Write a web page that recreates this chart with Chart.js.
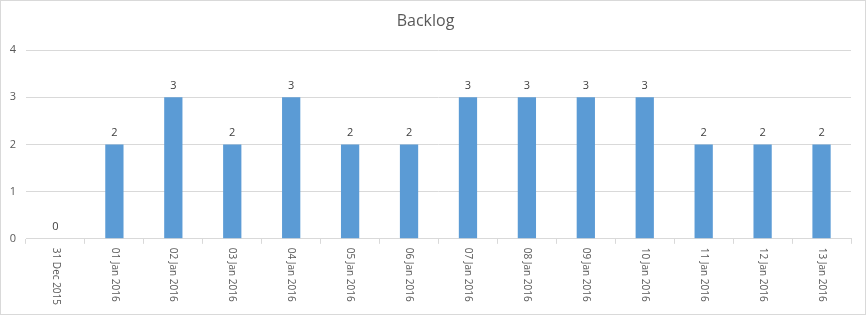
<!DOCTYPE html>
<html>
<head>
<meta charset="utf-8">
<script src="https://cdn.jsdelivr.net/npm/chart.js@4"></script>
<style>
html,body{margin:0;padding:0;background:#fff;}
#wrap{width:866px;height:315px;position:relative;}
</style>
</head>
<body>
<div id="wrap"><canvas id="c" width="866" height="315"></canvas></div>
<script>
const categories = ["31 Dec 2015","01 Jan 2016","02 Jan 2016","03 Jan 2016","04 Jan 2016","05 Jan 2016","06 Jan 2016","07 Jan 2016","08 Jan 2016","09 Jan 2016","10 Jan 2016","11 Jan 2016","12 Jan 2016","13 Jan 2016"];
const backlog = [0,2,3,2,3,2,2,3,3,3,3,2,2,2];
const yTicks = [0,1,2,3,4];

const FONT = "'Open Sans','Noto Sans',sans-serif";
const TXT = '#595959';

const framePlugin = {
  id: 'frame',
  beforeDraw(chart) {
    const ctx = chart.ctx;
    ctx.save();
    ctx.fillStyle = '#fff';
    ctx.fillRect(0, 0, chart.width, chart.height);
    ctx.strokeStyle = '#d9d9d9';
    ctx.lineWidth = 1;
    ctx.strokeRect(0.5, 0.5, chart.width - 1, chart.height - 1);
    ctx.restore();
  }
};

const labelsPlugin = {
  id: 'valueLabels',
  afterDatasetsDraw(chart) {
    const ctx = chart.ctx;
    const meta = chart.getDatasetMeta(0);
    ctx.save();
    ctx.font = "11px " + FONT;
    ctx.fillStyle = '#404040';
    ctx.textAlign = 'center';
    ctx.textBaseline = 'bottom';
    meta.data.forEach((bar, i) => {
      ctx.fillText(String(backlog[i]), bar.x, bar.y - 6);
    });
    ctx.restore();
  }
};

const xLabelPlugin = {
  id: 'xLabels',
  afterDraw(chart) {
    const ctx = chart.ctx;
    const xs = chart.scales.x;
    ctx.save();
    ctx.font = "10px " + FONT;
    ctx.fillStyle = TXT;
    ctx.textAlign = 'left';
    ctx.textBaseline = 'middle';
    categories.forEach((lab, i) => {
      const x = xs.getPixelForTick(i);
      ctx.save();
      ctx.translate(x, xs.top + 9);
      ctx.rotate(Math.PI / 2);
      ctx.fillText(lab, 0, 0);
      ctx.restore();
    });
    ctx.restore();
  }
};

new Chart(document.getElementById('c'), {
  type: 'bar',
  data: {
    labels: categories,
    datasets: [{
      label: 'Backlog',
      data: backlog,
      backgroundColor: '#5B9BD5',
      borderWidth: 0,
      barPercentage: 0.31,
      categoryPercentage: 1.0
    }]
  },
  options: {
    responsive: false,
    animation: false,
    devicePixelRatio: 1,
    layout: { padding: { left: 0, right: 15, top: 0, bottom: 6 } },
    plugins: {
      legend: { display: false },
      tooltip: { enabled: false },
      title: {
        display: true,
        text: 'Backlog',
        color: TXT,
        font: { family: FONT, size: 16, weight: 'normal' },
        padding: { top: 12, bottom: 19 }
      }
    },
    scales: {
      x: {
        offset: true,
        grid: {
          offset: true,
          drawOnChartArea: false,
          drawTicks: true,
          tickLength: 5,
          color: '#d9d9d9'
        },
        border: { color: '#d9d9d9' },
        ticks: {
          color: 'rgba(0,0,0,0)',
          font: { family: FONT, size: 10 },
          minRotation: 90,
          maxRotation: 90,
          padding: 4,
          autoSkip: false
        }
      },
      y: {
        min: 0,
        max: 4,
        afterFit(scale) { scale.width = 26; },
        afterBuildTicks(scale) { scale.ticks = yTicks.map(v => ({ value: v })); },
        grid: { color: '#d9d9d9', drawTicks: false },
        border: { display: false },
        ticks: {
          color: TXT,
          font: { family: FONT, size: 11 },
          padding: 10
        }
      }
    }
  },
  plugins: [framePlugin, labelsPlugin, xLabelPlugin]
});
</script>
</body>
</html>
